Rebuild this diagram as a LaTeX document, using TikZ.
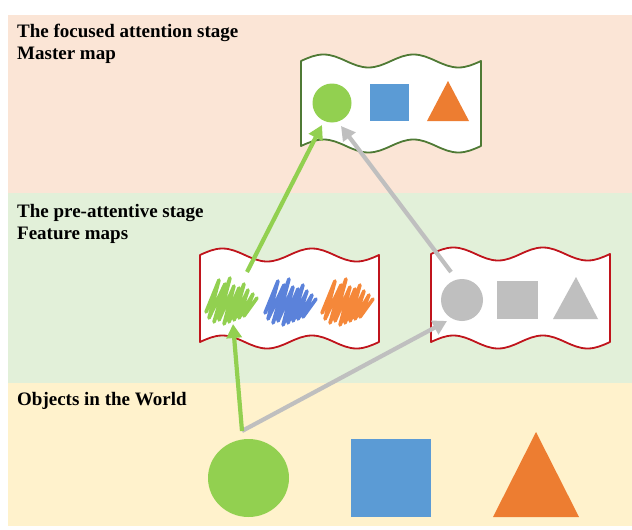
\documentclass[tikz,border=0pt]{standalone}
\usepackage{fontspec}
\setmainfont{Liberation Serif}
\usetikzlibrary{arrows.meta}
\definecolor{peach}{HTML}{FBE5D6}
\definecolor{lgreen}{HTML}{E2F0D9}
\definecolor{lyellow}{HTML}{FFF2CC}
\definecolor{objgreen}{HTML}{92D050}
\definecolor{objblue}{HTML}{5B9BD5}
\definecolor{objorange}{HTML}{ED7D31}
\definecolor{objgray}{HTML}{BFBFBF}
\definecolor{flaggreen}{HTML}{4F7A35}
\definecolor{flagred}{HTML}{C0141C}
\definecolor{scrblue}{HTML}{5B82DA}
\definecolor{scrorange}{HTML}{F5883A}
\newcommand{\waveflag}[5]{% L, R, top mid, bottom mid, colour
  \pgfmathsetmacro{\wq}{(#2-#1)/8}
  \draw[flagline, draw=#5] (#1,#3)
    sin ++(\wq,-6.5) cos ++(\wq,6.5) sin ++(\wq,6.5) cos ++(\wq,-6.5)
    sin ++(\wq,-6.5) cos ++(\wq,6.5) sin ++(\wq,6.5) cos ++(\wq,-6.5)
    -- (#2,#4)
    sin ++(-\wq,6.5) cos ++(-\wq,-6.5) sin ++(-\wq,-6.5) cos ++(-\wq,6.5)
    sin ++(-\wq,6.5) cos ++(-\wq,-6.5) sin ++(-\wq,-6.5) cos ++(-\wq,6.5)
    -- cycle;}
\newcommand{\scribble}[3]{% x, y, colour
  \begin{scope}[shift={(#1,#2)}]
    \draw[scrib, draw=#3] (0,36) -- (13,4) -- (3,42) -- (19,8) -- (8,46) -- (24,2)
      -- (13,44) -- (28,10) -- (18,48) -- (33,12) -- (23,46) -- (38,8) -- (28,44)
      -- (42,14) -- (33,42) -- (47,18) -- (38,40) -- (51,22);
  \end{scope}}
\begin{document}
\begin{tikzpicture}[x=1pt,y=-1pt,
  lbl/.style={anchor=base west, font=\fontsize{19}{22}\selectfont\bfseries, inner sep=0pt},
  flagline/.style={line width=1.8pt, fill=white, line join=round},
  arr/.style={line width=4.2pt, -{Triangle[length=14pt,width=15pt]}},
  scrib/.style={line width=3.6pt, line cap=round, line join=round}]
\useasboundingbox (0,0) rectangle (632,530);
% panels
\fill[peach] (8,15) rectangle (632,193);
\fill[lgreen] (8,193) rectangle (632,383);
\fill[lyellow] (8,383) rectangle (632,526);
% labels
\node[lbl] (t1a) at (17,37.5) {The focused attention stage};
\node[lbl] (t1b) at (17,59.5) {Master map};
\node[lbl] (t2a) at (17,217.5) {The pre-attentive stage};
\node[lbl] (t2b) at (17,239.5) {Feature maps};
\node[lbl] (t3a) at (17,405) {Objects in the World};
% flags
\waveflag{301}{481}{61}{146}{flaggreen}
\waveflag{200}{379}{255}{342}{flagred}
\waveflag{431}{610}{254}{342}{flagred}
% master map shapes
\fill[objgreen] (332,103) circle (19.5);
\fill[objblue] (370,84) rectangle (409,121);
\fill[objorange] (427,121) -- (469,121) -- (448,81) -- cycle;
% feature maps
\scribble{206}{276}{objgreen}
\scribble{265}{277}{scrblue}
\scribble{322}{277}{scrorange}
\fill[objgray] (462,300) circle (21);
\fill[objgray] (497,281) rectangle (538,319);
\fill[objgray] (553,319) -- (598,319) -- (576,277) -- cycle;
% world objects
\fill[objgreen] (248.5,478) ellipse [x radius=40.5, y radius=39];
\fill[objblue] (351,439) rectangle (431,517);
\fill[objorange] (493,517) -- (579,517) -- (536,432) -- cycle;
% connector points
\coordinate (src) at (242,431);
\coordinate (f1in) at (233,324);
\coordinate (f2in) at (447,321);
\coordinate (f1out) at (247,272);
\coordinate (mcin1) at (322,125);
\coordinate (f2out) at (451,272);
\coordinate (mcin2) at (341,126);
% arrows
\draw[arr, draw=objgray] (src) -- (f2in);
\draw[arr, draw=objgreen] (src) -- (f1in);
\draw[arr, draw=objgray] (f2out) -- (mcin2);
\draw[arr, draw=objgreen] (f1out) -- (mcin1);
\end{tikzpicture}
\end{document}
